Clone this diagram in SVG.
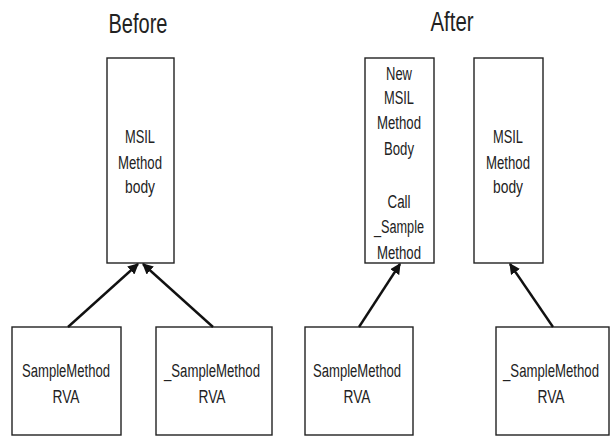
<svg xmlns="http://www.w3.org/2000/svg" width="611" height="436" viewBox="0 0 611 436">
<style>
.box{fill:#fff;stroke:#222;stroke-width:1.4}
.t{font-family:"Liberation Sans",Arial,sans-serif;font-size:18px;fill:#222;text-anchor:middle}
.h{font-family:"Liberation Sans",Arial,sans-serif;font-size:27px;fill:#222;text-anchor:middle}
.c{stroke:#111;stroke-width:2.4;fill:none;marker-end:url(#ah)}
</style>
<defs>
<marker id="ah" viewBox="0 0 10 10" refX="9" refY="5" markerWidth="4.5" markerHeight="4.5" orient="auto" markerUnits="strokeWidth">
<path d="M0,0 L10,5 L0,10 z" fill="#111"/>
</marker>
</defs>
<text class="h" x="138" y="33" textLength="59" lengthAdjust="spacingAndGlyphs">Before</text>
<text class="h" x="452" y="31" textLength="43" lengthAdjust="spacingAndGlyphs">After</text>
<g id="before-msil">
<rect class="box" x="107" y="58" width="67" height="205"/>
<text class="t" x="140" y="143" textLength="30" lengthAdjust="spacingAndGlyphs">MSIL</text>
<text class="t" x="140" y="169" textLength="44" lengthAdjust="spacingAndGlyphs">Method</text>
<text class="t" x="140" y="193" textLength="30" lengthAdjust="spacingAndGlyphs">body</text>
</g>
<g id="before-rva1">
<rect class="box" x="12" y="327" width="109" height="108"/>
<text class="t" x="66" y="377" textLength="88" lengthAdjust="spacingAndGlyphs">SampleMethod</text>
<text class="t" x="66" y="403" textLength="27" lengthAdjust="spacingAndGlyphs">RVA</text>
</g>
<g id="before-rva2">
<rect class="box" x="156" y="327" width="116" height="108"/>
<text class="t" x="212" y="377" textLength="96" lengthAdjust="spacingAndGlyphs">_SampleMethod</text>
<text class="t" x="212" y="403" textLength="27" lengthAdjust="spacingAndGlyphs">RVA</text>
</g>
<g id="after-new">
<rect class="box" x="365" y="58" width="69" height="205"/>
<text class="t" x="399" y="80" textLength="26" lengthAdjust="spacingAndGlyphs">New</text>
<text class="t" x="399" y="104" textLength="30" lengthAdjust="spacingAndGlyphs">MSIL</text>
<text class="t" x="399" y="129" textLength="44" lengthAdjust="spacingAndGlyphs">Method</text>
<text class="t" x="399" y="155" textLength="30" lengthAdjust="spacingAndGlyphs">Body</text>
<text class="t" x="399" y="208" textLength="23" lengthAdjust="spacingAndGlyphs">Call</text>
<text class="t" x="399" y="233" textLength="50" lengthAdjust="spacingAndGlyphs">_Sample</text>
<text class="t" x="399" y="259" textLength="44" lengthAdjust="spacingAndGlyphs">Method</text>
</g>
<g id="after-msil">
<rect class="box" x="474" y="58" width="69" height="205"/>
<text class="t" x="508" y="143" textLength="30" lengthAdjust="spacingAndGlyphs">MSIL</text>
<text class="t" x="508" y="169" textLength="44" lengthAdjust="spacingAndGlyphs">Method</text>
<text class="t" x="508" y="193" textLength="30" lengthAdjust="spacingAndGlyphs">body</text>
</g>
<g id="after-rva1">
<rect class="box" x="305" y="327" width="108" height="108"/>
<text class="t" x="357" y="377" textLength="88" lengthAdjust="spacingAndGlyphs">SampleMethod</text>
<text class="t" x="357" y="403" textLength="27" lengthAdjust="spacingAndGlyphs">RVA</text>
</g>
<g id="after-rva2">
<rect class="box" x="496" y="327" width="113" height="108"/>
<text class="t" transform="translate(551,377) scale(0.733,1)" x="0" y="0">_SampleMethod</text>
<text class="t" x="551" y="403" textLength="27" lengthAdjust="spacingAndGlyphs">RVA</text>
</g>
<g id="connectors">
<line class="c" x1="68" y1="327" x2="138" y2="264"/>
<line class="c" x1="213" y1="327" x2="143" y2="264"/>
<line class="c" x1="359" y1="327" x2="400" y2="264"/>
<line class="c" x1="553" y1="327" x2="510" y2="264"/>
</g>
</svg>
